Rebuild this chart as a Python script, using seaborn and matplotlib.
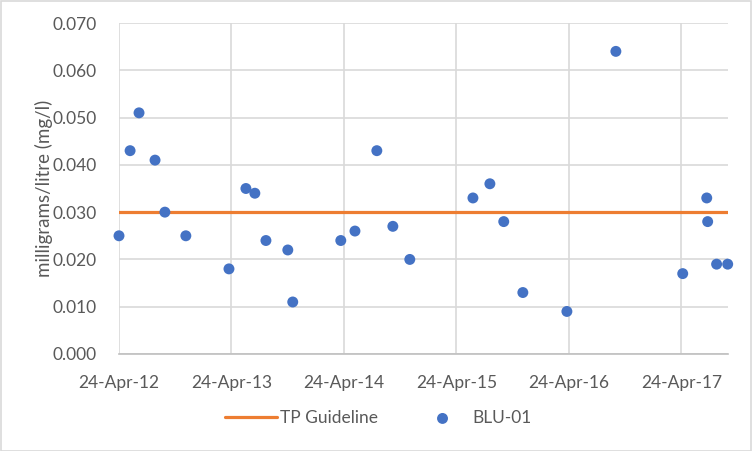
import matplotlib
matplotlib.use("Agg")
import matplotlib.pyplot as plt
import matplotlib.dates as mdates
from matplotlib.patches import Rectangle
import seaborn as sns
import pandas as pd

# ---- data ----
sample_dates = [
    "2012-04-24", "2012-05-30", "2012-06-28", "2012-08-19", "2012-09-20", "2012-11-27",
    "2013-04-16", "2013-06-10", "2013-07-09", "2013-08-14", "2013-10-24", "2013-11-09",
    "2014-04-14", "2014-05-30", "2014-08-09", "2014-09-30", "2014-11-24",
    "2015-06-17", "2015-08-11", "2015-09-25", "2015-11-26",
    "2016-04-17", "2016-09-23",
    "2017-04-28", "2017-07-15", "2017-07-18", "2017-08-16", "2017-09-21",
]
blu01 = [
    0.025, 0.043, 0.051, 0.041, 0.030, 0.025,
    0.018, 0.035, 0.034, 0.024, 0.022, 0.011,
    0.024, 0.026, 0.043, 0.027, 0.020,
    0.033, 0.036, 0.028, 0.013,
    0.009, 0.064,
    0.017, 0.033, 0.028, 0.019, 0.019,
]
tp_guideline = 0.030
tick_dates = ["2012-04-24", "2013-04-24", "2014-04-24", "2015-04-24", "2016-04-24", "2017-04-24"]
y_ticks = [0.000, 0.010, 0.020, 0.030, 0.040, 0.050, 0.060, 0.070]
y_label = "milligrams/litre (mg/l)"

df = pd.DataFrame({"date": pd.to_datetime(sample_dates), "BLU-01": blu01})
df["TP Guideline"] = tp_guideline

# ---- style ----
sns.set_theme(style="white")
plt.rcParams["font.family"] = ["Lato", "DejaVu Sans"]
text_color = "#595959"
grid_color = "#d9d9d9"
blue = "#4472C4"
orange = "#ED7D31"

fig = plt.figure(figsize=(7.52, 4.51), dpi=100)
ax = fig.add_axes([119 / 752, 1 - 354 / 451, (728 - 119) / 752, (354 - 23) / 451])

sns.lineplot(data=df, x="date", y="TP Guideline", ax=ax, color=orange, linewidth=2.3,
             label="TP Guideline", zorder=3)
sns.scatterplot(data=df, x="date", y="BLU-01", ax=ax, color=blue, s=62, edgecolor="none",
                label="BLU-01", zorder=4, clip_on=False)
handles, labels = ax.get_legend_handles_labels()
if ax.get_legend() is not None:
    ax.get_legend().remove()

ax.set_xlim(pd.Timestamp("2012-04-24"), pd.Timestamp("2017-09-22"))
ax.set_ylim(0, 0.070)
ax.set_yticks(y_ticks)
ax.set_yticklabels([f"{v:.3f}" for v in y_ticks])
ax.set_xticks(pd.to_datetime(tick_dates))
ax.xaxis.set_major_formatter(mdates.DateFormatter("%d-%b-%y"))

ax.grid(True, color=grid_color, linewidth=1.2)
ax.set_axisbelow(True)
for side in ["top", "right", "left"]:
    ax.spines[side].set_visible(False)
ax.spines["bottom"].set_color("#bfbfbf")
ax.spines["bottom"].set_linewidth(1.2)
ax.tick_params(axis="x", length=0, labelsize=12.5, colors=text_color, pad=15)
ax.tick_params(axis="y", length=0, labelsize=12.5, colors=text_color, pad=16)

ax.set_xlabel("")
ax.set_ylabel(y_label, fontsize=13.5, color=text_color, labelpad=0)

leg = fig.legend(handles, labels, loc="center", bbox_to_anchor=(378 / 752, 1 - 418 / 451),
                 ncol=2, frameon=False, fontsize=12.5, handlelength=3, columnspacing=2.2,
                 handletextpad=0.2)
for t in leg.get_texts():
    t.set_color(text_color)

fig.patches.append(Rectangle((0.5 / 752, 0.5 / 451), 1 - 1.5 / 752, 1 - 1.5 / 451,
                             transform=fig.transFigure, fill=False,
                             edgecolor=grid_color, linewidth=1.2))

fig.savefig("out.png", dpi=100)
